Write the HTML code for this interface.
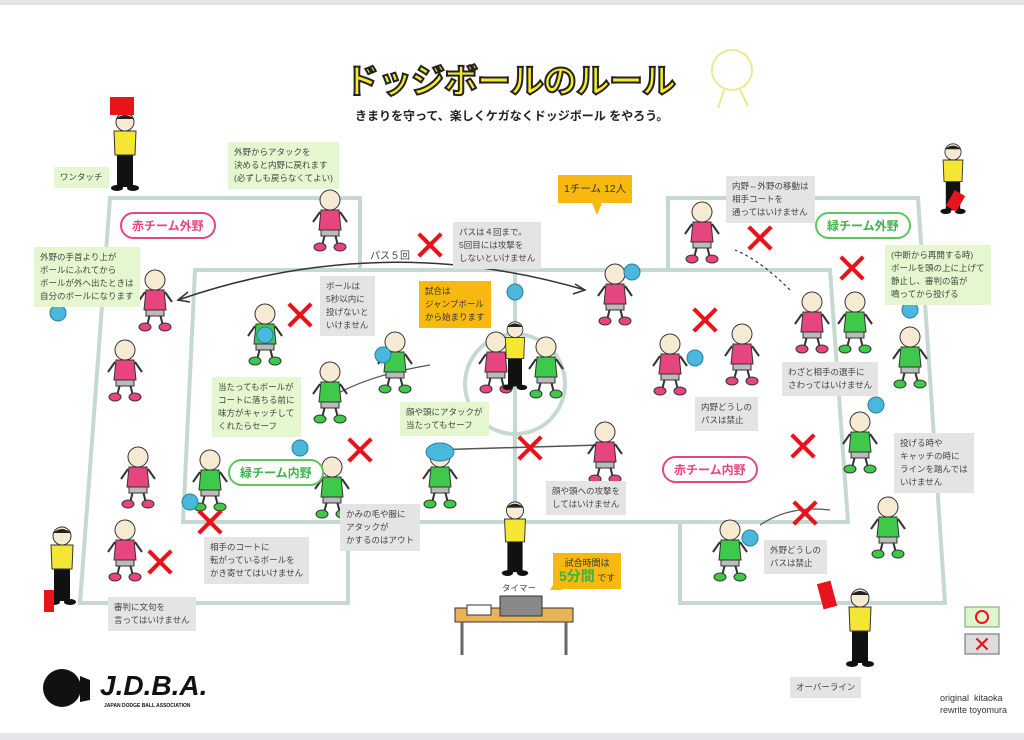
<!DOCTYPE html>
<html><head><meta charset="utf-8">
<style>
html,body{margin:0;padding:0;background:#fff;}
body{width:1024px;height:740px;position:relative;overflow:hidden;font-family:"Liberation Sans","Noto Sans CJK JP",sans-serif;}
.b{position:absolute;font-size:8.5px;line-height:13px;color:#444;padding:4px 6px;box-sizing:border-box;white-space:nowrap;width:auto!important;height:auto!important;}
.g{background:#e4e4e4;}
.l{background:#e4f7cf;}
.y{background:#f7b90f;color:#333;}
.tag{position:absolute;font-size:12px;font-weight:bold;border:2.5px solid;border-radius:14px;padding:3px 10px;background:#fff;white-space:nowrap;}
</style></head><body>
<div style="position:absolute;left:0;top:0;width:1024px;height:5px;background:#e6e6ea"></div>
<div style="position:absolute;left:0;top:733px;width:1024px;height:7px;background:#e6e6ea"></div>

<svg width="1024" height="740" style="position:absolute;left:0;top:0">
<defs>
<symbol id="kid" viewBox="0 0 40 64">
<line x1="15" y1="46" x2="12" y2="58" stroke="#333" stroke-width="2"/>
<line x1="25" y1="46" x2="28" y2="58" stroke="#333" stroke-width="2"/>
<ellipse cx="10" cy="59" rx="6" ry="4" fill="currentColor" stroke="#333"/>
<ellipse cx="30" cy="59" rx="6" ry="4" fill="currentColor" stroke="#333"/>
<rect x="11" y="40" width="18" height="8" fill="#bbb" stroke="#333"/>
<path d="M11 22 L29 22 L31 42 L9 42 Z" fill="currentColor" stroke="#333"/>
<line x1="10" y1="24" x2="3" y2="34" stroke="#333" stroke-width="2"/>
<line x1="30" y1="24" x2="37" y2="34" stroke="#333" stroke-width="2"/>
<circle cx="20" cy="12" r="10" fill="#f7ead3" stroke="#333"/>
</symbol>
<symbol id="ref" viewBox="0 0 40 80">
<rect x="12" y="40" width="16" height="36" fill="#111"/>
<path d="M9 20 L31 20 L30 44 L10 44 Z" fill="#f5e633" stroke="#333"/>
<circle cx="20" cy="11" r="9" fill="#f7ead3" stroke="#333"/>
<path d="M11 8 Q20 0 29 8" fill="#222"/>
<ellipse cx="12" cy="77" rx="6" ry="3" fill="#111"/><ellipse cx="28" cy="77" rx="6" ry="3" fill="#111"/>
</symbol>
<symbol id="x" viewBox="0 0 30 30">
<line x1="3" y1="3" x2="27" y2="27" stroke="#e8141b" stroke-width="4.5"/>
<line x1="27" y1="3" x2="3" y2="27" stroke="#e8141b" stroke-width="4.5"/>
</symbol>
</defs>
<g stroke="#c6d8d2" stroke-width="4" fill="none">
<polyline points="360,270 360,198 110,198 80,603 348,603 348,522"/>
<polyline points="668,270 668,198 918,198 945,603 680,603 680,522"/>
<polygon points="195,270 830,270 848,522 183,522"/>
<line x1="515" y1="270" x2="515" y2="522"/>
<circle cx="515" cy="384" r="50"/>
</g>
<path d="M178 300 Q380 230 585 290" stroke="#333" stroke-width="1.5" fill="none"/>
<path d="M188 292 L178 300 L190 302 M575 284 L585 290 L573 294" stroke="#333" stroke-width="1.5" fill="none"/>
<path d="M790 290 Q760 260 735 250" stroke="#333" stroke-width="1.2" fill="none" stroke-dasharray="3,3"/>
<path d="M430 450 L600 445" stroke="#555" stroke-width="1.5"/>
<path d="M335 395 Q370 375 430 365" stroke="#555" stroke-width="1.2" fill="none"/>
<path d="M760 525 Q790 505 830 510" stroke="#555" stroke-width="1.2" fill="none"/>

<g color="#e6457f">
<use href="#kid" x="310" y="188" width="40" height="64"/>
<use href="#kid" x="135" y="268" width="40" height="64"/>
<use href="#kid" x="105" y="338" width="40" height="64"/>
<use href="#kid" x="118" y="445" width="40" height="64"/>
<use href="#kid" x="105" y="518" width="40" height="64"/>
<use href="#kid" x="595" y="262" width="40" height="64"/>
<use href="#kid" x="650" y="332" width="40" height="64"/>
<use href="#kid" x="722" y="322" width="40" height="64"/>
<use href="#kid" x="792" y="290" width="40" height="64"/>
<use href="#kid" x="476" y="330" width="40" height="64"/>
<use href="#kid" x="585" y="420" width="40" height="64"/>
<use href="#kid" x="682" y="200" width="40" height="64"/>
</g>
<g color="#3fc94a">
<use href="#kid" x="245" y="302" width="40" height="64"/>
<use href="#kid" x="375" y="330" width="40" height="64"/>
<use href="#kid" x="310" y="360" width="40" height="64"/>
<use href="#kid" x="190" y="448" width="40" height="64"/>
<use href="#kid" x="312" y="455" width="40" height="64"/>
<use href="#kid" x="420" y="445" width="40" height="64"/>
<use href="#kid" x="526" y="335" width="40" height="64"/>
<use href="#kid" x="835" y="290" width="40" height="64"/>
<use href="#kid" x="890" y="322" width="40" height="70"/>
<use href="#kid" x="840" y="410" width="40" height="64"/>
<use href="#kid" x="710" y="515" width="40" height="70"/>
<use href="#kid" x="868" y="495" width="40" height="64"/>
</g>
<use href="#ref" x="105" y="108" width="40" height="86"/>
<use href="#ref" x="933" y="142" width="40" height="72"/>
<use href="#ref" x="42" y="520" width="40" height="90"/>
<use href="#ref" x="840" y="582" width="40" height="90"/>
<use href="#ref" x="495" y="320" width="40" height="70"/>
<use href="#ref" x="495" y="500" width="40" height="76"/>
<rect x="110" y="97" width="24" height="18" fill="#e8141b"/>
<rect x="820" y="582" width="14" height="26" fill="#e8141b" transform="rotate(-15 827 595)"/>
<rect x="44" y="590" width="10" height="22" fill="#e8141b"/>
<rect x="950" y="192" width="12" height="18" fill="#e8141b" transform="rotate(30 956 200)"/>
<rect x="455" y="608" width="118" height="14" fill="#e8b455" stroke="#333"/>
<line x1="462" y1="622" x2="462" y2="655" stroke="#666" stroke-width="3"/>
<line x1="566" y1="622" x2="566" y2="655" stroke="#666" stroke-width="3"/>
<rect x="500" y="596" width="42" height="20" fill="#888" stroke="#333"/>
<rect x="467" y="605" width="24" height="10" fill="#fff" stroke="#333"/>
<g fill="#4ab8dc" stroke="#2a7fa0">
<circle cx="58" cy="313" r="8"/><circle cx="190" cy="502" r="8"/><circle cx="300" cy="448" r="8"/>
<circle cx="515" cy="292" r="8"/><circle cx="632" cy="272" r="8"/><circle cx="695" cy="358" r="8"/>
<circle cx="910" cy="310" r="8"/><circle cx="876" cy="405" r="8"/><circle cx="750" cy="538" r="8"/>
<circle cx="265" cy="335" r="8"/><circle cx="383" cy="355" r="8"/><ellipse cx="440" cy="452" rx="14" ry="9"/>
</g>
<use href="#x" x="416" y="231" width="28" height="28"/>
<use href="#x" x="286" y="301" width="28" height="28"/>
<use href="#x" x="746" y="224" width="28" height="28"/>
<use href="#x" x="838" y="254" width="28" height="28"/>
<use href="#x" x="691" y="306" width="28" height="28"/>
<use href="#x" x="346" y="436" width="28" height="28"/>
<use href="#x" x="516" y="434" width="28" height="28"/>
<use href="#x" x="196" y="508" width="28" height="28"/>
<use href="#x" x="146" y="548" width="28" height="28"/>
<use href="#x" x="789" y="432" width="28" height="28"/>
<use href="#x" x="791" y="499" width="28" height="28"/>
<rect x="965" y="607" width="34" height="20" fill="#dff3cf" stroke="#6a6"/>
<circle cx="982" cy="617" r="6" fill="none" stroke="#e8141b" stroke-width="2"/>
<rect x="965" y="634" width="34" height="20" fill="#ddd" stroke="#666"/>
<use href="#x" x="975" y="637" width="14" height="14"/>
<circle cx="62" cy="688" r="19" fill="#111"/>
<path d="M80 676 L90 680 L90 700 L80 702" fill="#111"/>
<circle cx="732" cy="70" r="20" fill="none" stroke="#eaea90" stroke-width="2"/>
<path d="M724 90 L718 108 M740 90 L748 106" stroke="#eaea90" stroke-width="2"/>
<path d="M592 203 L597 215 L602 203 Z" fill="#f7b90f"/>
<path d="M482 318 L490 326 L486 316 Z" fill="#f7b90f"/>
<path d="M550 590 L556 580 L562 590 Z" fill="#f7b90f"/>
</svg>

<div style="position:absolute;left:345px;top:54px;font-size:34px;font-weight:bold;color:#f6ea2b;-webkit-text-stroke:2px #222;letter-spacing:-1px;white-space:nowrap;">ドッジボールのルール</div>
<div style="position:absolute;left:355px;top:107px;font-size:12px;font-weight:bold;color:#222;white-space:nowrap;">きまりを守って、楽しくケガなくドッジボール をやろう。</div>

<div class="b l" style="left:54px;top:167px;">ワンタッチ</div>
<div class="b l" style="left:228px;top:142px;">外野からアタックを<br>決めると内野に戻れます<br>(必ずしも戻らなくてよい)</div>
<div class="b y" style="left:558px;top:175px;font-size:10.5px;line-height:20px;">1チーム 12人</div>
<div class="b g" style="left:726px;top:176px;">内野⇔外野の移動は<br>相手コートを<br>通ってはいけません</div>
<div class="b g" style="left:453px;top:222px;">パスは４回まで。<br>5回目には攻撃を<br>しないといけません</div>
<div class="b l" style="left:34px;top:247px;">外野の手首より上が<br>ボールにふれてから<br>ボールが外へ出たときは<br>自分のボールになります</div>
<div class="b l" style="left:885px;top:245px;">(中断から再開する時)<br>ボールを頭の上に上げて<br>静止し、審判の笛が<br>鳴ってから投げる</div>
<div class="b g" style="left:320px;top:276px;">ボールは<br>5秒以内に<br>投げないと<br>いけません</div>
<div class="b y" style="left:419px;top:281px;">試合は<br>ジャンプボール<br>から始まります</div>
<div class="b l" style="left:212px;top:377px;">当たってもボールが<br>コートに落ちる前に<br>味方がキャッチして<br>くれたらセーフ</div>
<div class="b g" style="left:782px;top:362px;">わざと相手の選手に<br>さわってはいけません</div>
<div class="b l" style="left:400px;top:402px;">顔や頭にアタックが<br>当たってもセーフ</div>
<div class="b g" style="left:695px;top:397px;">内野どうしの<br>パスは禁止</div>
<div class="b g" style="left:894px;top:433px;">投げる時や<br>キャッチの時に<br>ラインを踏んでは<br>いけません</div>
<div class="b g" style="left:546px;top:481px;">顔や頭への攻撃を<br>してはいけません</div>
<div class="b g" style="left:340px;top:504px;">かみの毛や服に<br>アタックが<br>かするのはアウト</div>
<div class="b g" style="left:204px;top:537px;">相手のコートに<br>転がっているボールを<br>かき寄せてはいけません</div>
<div class="b g" style="left:764px;top:540px;">外野どうしの<br>パスは禁止</div>
<div class="b y" style="left:553px;top:553px;font-size:9px;line-height:13px;text-align:center;">試合時間は<br><b style="color:#3cb43c;font-size:14px;">5分間</b> です</div>
<div class="b" style="left:502px;top:582px;padding:0;">タイマー</div>
<div class="b g" style="left:108px;top:597px;">審判に文句を<br>言ってはいけません</div>
<div class="b g" style="left:790px;top:677px;">オーバーライン</div>
<div class="b" style="left:940px;top:692px;font-size:9px;line-height:12px;padding:0;color:#333;">original &nbsp;kitaoka<br>rewrite toyomura</div>
<div style="position:absolute;left:100px;top:670px;font-size:28px;font-weight:bold;font-style:italic;color:#111;">J.D.B.A.</div>
<div style="position:absolute;left:104px;top:703px;font-size:5px;font-weight:bold;color:#111;white-space:nowrap;">JAPAN DODGE BALL ASSOCIATION</div>
<div style="position:absolute;left:370px;top:247px;font-size:10px;color:#444;white-space:nowrap;">パス５回</div>

<div class="tag" style="left:120px;top:212px;color:#e6457f;border-color:#e6457f;">赤チーム外野</div>
<div class="tag" style="left:815px;top:212px;color:#3fb34a;border-color:#5cc65c;">緑チーム外野</div>
<div class="tag" style="left:228px;top:459px;color:#3fb34a;border-color:#5cc65c;">緑チーム内野</div>
<div class="tag" style="left:662px;top:456px;color:#e6457f;border-color:#e6457f;">赤チーム内野</div>
</body></html>
